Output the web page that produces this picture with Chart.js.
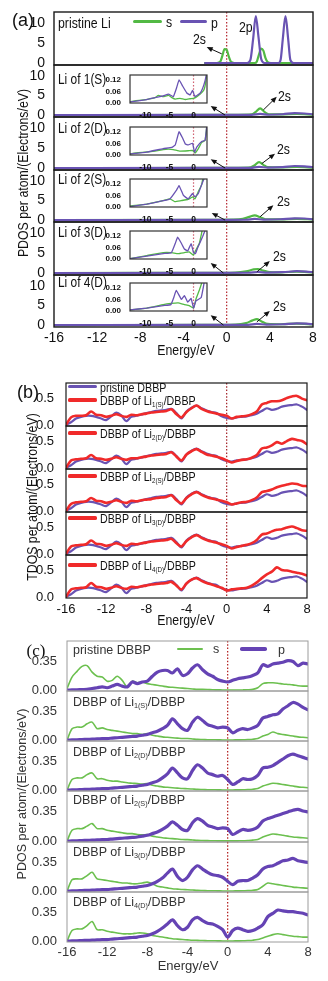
<!DOCTYPE html>
<html>
<head>
<meta charset="utf-8">
<script src="https://cdn.jsdelivr.net/npm/chart.js@4.4.1/dist/chart.umd.min.js"></script>
<style>
  html, body { margin: 0; padding: 0; background: #fff; }
  body { position: relative; width: 328px; height: 981px; overflow: hidden; }
  canvas { position: absolute; }
  .txt { position: absolute; white-space: nowrap; line-height: 1; transform-origin: 0 50%; color: #111; }
  .ctxt { position: absolute; white-space: nowrap; line-height: 1; color: #111; }
  .sw { position: absolute; }
  sub { font-size: 58%; vertical-align: -0.3em; line-height: 0; }
</style>
</head>
<body>
<script>
// ---------- data ----------
const E_GRID = [-16,-15.5,-15,-14.5,-14,-13.5,-13,-12.5,-12,-11.5,-11,-10.5,-10,-9.5,-9,-8.5,-8,-7.5,-7,-6.5,-6,-5.5,-5,-4.5,-4,-3.5,-3,-2.5,-2,-1.5,-1,-0.5,0,0.5,1,1.5,2,2.5,3,3.5,4,4.5,5,5.5,6,6.5,7,7.5,8];
const X_TICKS = [-16, -12, -8, -4, 0, 4, 8];
const INSET_X_TICKS = [-10, -5, 0];
const A_Y_TICKS = [0, 5, 10];
const INSET_Y_TICKS = [0, 0.06, 0.12];
const B_Y_TICKS = [0, 0.5];
const C_Y_TICKS = [0, 0.35];

const A_SITES = ['1(S)', '2(D)', '2(S)', '3(D)', '4(D)'];
const B_SITES = ['1(S)', '2(D)', '2(S)', '3(D)', '4(D)'];
const C_SITES = ['1(S)', '2(D)', '2(S)', '3(D)', '4(D)'];

// (a) pristine Li, [energy, PDOS]
const LI_PRISTINE_S = [[-2,0],[-0.9,0],[-0.6,0.3],[-0.4,1.8],[-0.2,3.5],[0,3.3],[0.2,1.6],[0.4,0.3],[0.7,0],[2.6,0],[2.8,0.4],[3.0,2.2],[3.2,3.6],[3.4,3.1],[3.6,1.2],[3.8,0.2],[4.1,0],[8,0]];
const LI_PRISTINE_P = [[-2,0],[1.9,0],[2.2,0.8],[2.45,6],[2.7,11.8],[2.95,6.5],[3.2,1],[3.5,0],[4.8,0],[5.0,0.8],[5.2,6],[5.45,11.8],[5.7,6],[5.9,0.8],[6.2,0],[8,0]];

// (a) adsorbed Li sites
const LI_1S_S = [[-16,0],[-2,0.02],[1,0.05],[2.3,0.15],[2.7,0.8],[3.1,1.7],[3.5,0.8],[3.9,0.2],[5,0.15],[6.5,0.3],[8,0.1]];
const LI_2D_S = [[-16,0],[-2,0.02],[1,0.05],[2.2,0.15],[2.6,0.7],[3.0,1.5],[3.4,0.8],[3.8,0.2],[5,0.15],[6.5,0.3],[8,0.1]];
const LI_2S_S = [[-16,0],[-2,0.03],[0.5,0.1],[1.5,0.3],[2.1,0.8],[2.6,1.2],[3.1,0.7],[3.6,0.2],[5,0.15],[6.5,0.3],[8,0.15]];
const LI_3D_S = [[-16,0],[-2,0.02],[0.8,0.1],[1.8,0.4],[2.5,0.9],[2.9,1.0],[3.4,0.6],[4,0.2],[5,0.15],[6.5,0.35],[8,0.15]];
const LI_4D_S = [[-16,0],[-2,0.02],[0.8,0.1],[1.8,0.5],[2.4,1.2],[2.8,1.5],[3.2,1.0],[3.8,0.3],[5,0.2],[6.5,0.35],[8,0.15]];
const LI_1S_P = [[-16,0],[-2,0.02],[2.3,0.05],[3.1,0.3],[3.9,0.08],[5.2,0.2],[6.3,0.5],[7.2,0.4],[8,0.2]];
const LI_2D_P = [[-16,0],[-2,0.02],[2.2,0.05],[3.0,0.3],[3.8,0.08],[5.2,0.2],[6.3,0.5],[7.2,0.4],[8,0.2]];
const LI_2S_P = [[-16,0],[-2,0.02],[1.8,0.08],[2.6,0.3],[3.4,0.1],[5.0,0.2],[6.3,0.45],[7.2,0.4],[8,0.2]];
const LI_3D_P = [[-16,0],[-2,0.02],[2.0,0.06],[2.9,0.25],[3.8,0.1],[5.2,0.2],[6.5,0.45],[7.4,0.35],[8,0.2]];
const LI_4D_P = [[-16,0],[-2,0.02],[2.0,0.06],[2.8,0.3],[3.7,0.1],[5.2,0.2],[6.5,0.45],[7.4,0.35],[8,0.2]];

// (a) insets, valence region
const INSET_1S_S = [[-13.2,0.006],[-12.2,0.011],[-10.8,0.015],[-9.4,0.02],[-8,0.028],[-7.3,0.039],[-6.3,0.033],[-5.2,0.039],[-4.5,0.028],[-3.8,0.02],[-2.8,0.024],[-1.7,0.018],[-0.7,0.022],[0,0.024],[0.7,0.033],[1.4,0.046],[2.1,0.065],[2.4,0.089],[2.8,0.16]];
const INSET_1S_P = [[-13.2,0.006],[-11.5,0.011],[-9.7,0.018],[-8,0.028],[-6.3,0.037],[-5.2,0.046],[-4.2,0.033],[-3.5,0.08],[-3.0,0.12],[-2.3,0.089],[-1.4,0.052],[-0.7,0.042],[-0.2,0.065],[0.3,0.033],[1.4,0.052],[1.9,0.076],[2.4,0.116],[2.8,0.16]];
const INSET_2D_S = [[-13.2,0.006],[-11.5,0.012],[-9.7,0.016],[-8,0.02],[-6.3,0.028],[-5.2,0.03],[-4.2,0.028],[-2.8,0.02],[-1.1,0.022],[-0.2,0.024],[0.3,0.01],[1.0,0.033],[1.7,0.065],[2.4,0.076],[2.8,0.16]];
const INSET_2D_P = [[-13.2,0.006],[-9.7,0.015],[-6.3,0.033],[-4.5,0.039],[-3.8,0.052],[-3.0,0.12],[-2.3,0.089],[-1.7,0.057],[-1.1,0.052],[-0.2,0.061],[0.2,0.015],[0.7,0.042],[1.7,0.07],[2.4,0.076],[2.8,0.16]];
const INSET_2S_S = [[-13.2,0.006],[-9.7,0.015],[-6.3,0.033],[-4.9,0.042],[-3.9,0.028],[-2.6,0.033],[-1.1,0.039],[-0.2,0.052],[0.3,0.042],[1.0,0.08],[1.7,0.116],[2.0,0.16]];
const INSET_2S_P = [[-13.2,0.002],[-9.7,0.015],[-6.3,0.033],[-4.9,0.042],[-3.5,0.089],[-3.0,0.11],[-2.1,0.06],[-1.1,0.042],[-0.2,0.07],[0.3,0.052],[1.0,0.07],[1.7,0.116],[2.4,0.16]];
const INSET_3D_S = [[-13.2,0.002],[-9.7,0.018],[-6.3,0.033],[-4.6,0.033],[-3.2,0.028],[-1.9,0.033],[-0.9,0.037],[0,0.02],[0.4,0.042],[1.2,0.08],[1.9,0.16]];
const INSET_3D_P = [[-13.2,0.002],[-9.7,0.015],[-6.3,0.028],[-4.6,0.033],[-3.8,0.08],[-3.3,0.113],[-2.5,0.08],[-1.9,0.052],[-1.2,0.042],[-0.5,0.08],[0,0.033],[0.4,0.028],[0.9,0.061],[1.9,0.116],[2.6,0.16]];
const INSET_4D_S = [[-13.2,0.006],[-9.7,0.015],[-6.3,0.033],[-4.7,0.039],[-3.2,0.042],[-1.9,0.033],[-0.9,0.028],[0,0.015],[0.5,0.061],[1.2,0.107],[1.9,0.16]];
const INSET_4D_P = [[-13.2,0.006],[-9.7,0.015],[-6.3,0.028],[-4.7,0.033],[-4.1,0.07],[-3.6,0.107],[-2.5,0.06],[-1.9,0.08],[-1.2,0.046],[-0.5,0.065],[0,0.015],[0.5,0.052],[1.6,0.07],[2.3,0.16]];

// (b) TDOS on E_GRID
const TDOS_PRISTINE = [0.00,0.05,0.12,0.15,0.17,0.17,0.15,0.12,0.09,0.16,0.23,0.18,0.07,0.15,0.17,0.19,0.22,0.24,0.26,0.27,0.28,0.30,0.22,0.12,0.25,0.32,0.36,0.31,0.27,0.24,0.22,0.16,0.13,0.12,0.14,0.15,0.16,0.18,0.21,0.26,0.31,0.28,0.30,0.34,0.36,0.37,0.38,0.34,0.28];
const TDOS_1S = [0.00,0.14,0.17,0.17,0.18,0.25,0.19,0.18,0.15,0.17,0.20,0.17,0.15,0.19,0.18,0.20,0.21,0.23,0.24,0.25,0.26,0.29,0.20,0.14,0.24,0.31,0.36,0.30,0.26,0.23,0.21,0.19,0.17,0.12,0.15,0.16,0.17,0.20,0.25,0.38,0.41,0.44,0.44,0.46,0.50,0.53,0.54,0.49,0.46];
const TDOS_2D = [0.00,0.14,0.16,0.17,0.18,0.24,0.18,0.17,0.15,0.17,0.20,0.17,0.15,0.18,0.18,0.20,0.21,0.23,0.24,0.25,0.26,0.29,0.21,0.14,0.25,0.31,0.35,0.30,0.25,0.23,0.21,0.18,0.14,0.10,0.13,0.15,0.16,0.19,0.24,0.36,0.38,0.42,0.48,0.45,0.50,0.54,0.52,0.50,0.44];
const TDOS_2S = [0.00,0.13,0.16,0.17,0.18,0.24,0.19,0.18,0.15,0.17,0.20,0.17,0.15,0.19,0.18,0.20,0.21,0.22,0.24,0.25,0.26,0.29,0.20,0.14,0.24,0.31,0.35,0.30,0.26,0.23,0.21,0.19,0.16,0.12,0.14,0.16,0.17,0.20,0.25,0.35,0.37,0.40,0.44,0.47,0.49,0.51,0.50,0.47,0.46];
const TDOS_3D = [0.00,0.14,0.16,0.17,0.18,0.25,0.19,0.18,0.15,0.17,0.20,0.17,0.15,0.19,0.18,0.20,0.21,0.23,0.24,0.25,0.26,0.28,0.20,0.14,0.24,0.31,0.35,0.30,0.26,0.23,0.21,0.18,0.15,0.10,0.13,0.15,0.17,0.20,0.26,0.36,0.38,0.42,0.45,0.46,0.49,0.51,0.48,0.44,0.43];
const TDOS_4D = [0.00,0.14,0.16,0.17,0.18,0.26,0.19,0.18,0.15,0.17,0.20,0.17,0.15,0.19,0.18,0.20,0.21,0.23,0.24,0.25,0.26,0.28,0.21,0.14,0.25,0.32,0.35,0.30,0.26,0.23,0.20,0.17,0.12,0.14,0.15,0.16,0.17,0.21,0.27,0.35,0.42,0.47,0.55,0.50,0.49,0.47,0.45,0.43,0.40];

// (c) PDOS of DBBP on E_GRID
const PDOS_PRISTINE_S = [0.02,0.16,0.23,0.29,0.30,0.22,0.17,0.16,0.11,0.12,0.17,0.12,0.04,0.11,0.09,0.10,0.08,0.07,0.06,0.05,0.04,0.035,0.03,0.025,0.02,0.015,0.01,0.01,0.008,0.005,0.004,0.003,0.002,0.002,0.002,0.003,0.005,0.01,0.03,0.08,0.09,0.09,0.085,0.075,0.07,0.065,0.055,0.05,0.05];
const PDOS_PRISTINE_P = [0,0.003,0.005,0.008,0.01,0.02,0.03,0.04,0.03,0.05,0.07,0.05,0.04,0.10,0.08,0.10,0.11,0.17,0.22,0.24,0.24,0.21,0.26,0.18,0.20,0.27,0.31,0.25,0.20,0.17,0.13,0.11,0.10,0.12,0.14,0.15,0.16,0.18,0.21,0.31,0.29,0.32,0.33,0.34,0.36,0.35,0.30,0.33,0.32];
const PDOS_1S_S = [0,0.14,0.16,0.16,0.20,0.22,0.14,0.15,0.13,0.12,0.11,0.10,0.09,0.08,0.08,0.07,0.08,0.06,0.05,0.04,0.035,0.03,0.025,0.02,0.02,0.015,0.01,0.008,0.006,0.005,0.004,0.003,0.003,0.003,0.004,0.005,0.008,0.012,0.02,0.05,0.07,0.10,0.08,0.07,0.06,0.05,0.04,0.035,0.03];
const PDOS_1S_P = [0,0.003,0.005,0.008,0.01,0.012,0.015,0.018,0.02,0.025,0.03,0.035,0.04,0.045,0.05,0.06,0.07,0.09,0.11,0.14,0.18,0.26,0.20,0.14,0.12,0.22,0.28,0.24,0.19,0.17,0.15,0.16,0.15,0.09,0.12,0.14,0.13,0.15,0.18,0.27,0.29,0.31,0.32,0.38,0.42,0.46,0.44,0.40,0.37];
const PDOS_2D_S = [0,0.13,0.15,0.15,0.19,0.21,0.14,0.14,0.12,0.11,0.11,0.10,0.09,0.085,0.08,0.075,0.08,0.06,0.05,0.04,0.035,0.03,0.025,0.02,0.018,0.014,0.01,0.008,0.006,0.005,0.004,0.003,0.003,0.003,0.004,0.005,0.008,0.012,0.02,0.05,0.07,0.085,0.08,0.07,0.06,0.05,0.04,0.035,0.03];
const PDOS_2D_P = [0,0.003,0.005,0.008,0.01,0.012,0.015,0.018,0.02,0.025,0.03,0.035,0.04,0.045,0.05,0.06,0.07,0.09,0.11,0.15,0.20,0.27,0.21,0.15,0.14,0.24,0.31,0.27,0.21,0.19,0.17,0.18,0.13,0.07,0.10,0.14,0.13,0.14,0.18,0.27,0.28,0.30,0.34,0.38,0.42,0.44,0.42,0.40,0.38];
const PDOS_2S_S = [0,0.13,0.15,0.15,0.18,0.21,0.15,0.15,0.13,0.12,0.11,0.10,0.09,0.09,0.08,0.075,0.08,0.06,0.05,0.04,0.035,0.03,0.025,0.02,0.018,0.014,0.01,0.008,0.006,0.005,0.004,0.003,0.003,0.003,0.004,0.005,0.008,0.012,0.02,0.05,0.07,0.085,0.08,0.07,0.06,0.05,0.045,0.04,0.035];
const PDOS_2S_P = [0,0.003,0.005,0.008,0.01,0.012,0.015,0.018,0.02,0.025,0.03,0.035,0.04,0.045,0.05,0.06,0.07,0.09,0.11,0.14,0.18,0.23,0.19,0.14,0.13,0.22,0.27,0.24,0.19,0.17,0.15,0.16,0.15,0.08,0.11,0.14,0.13,0.14,0.17,0.24,0.27,0.29,0.31,0.33,0.35,0.37,0.38,0.36,0.35];
const PDOS_3D_S = [0,0.14,0.15,0.15,0.19,0.23,0.15,0.14,0.13,0.12,0.11,0.10,0.10,0.09,0.09,0.10,0.11,0.09,0.06,0.05,0.04,0.03,0.025,0.02,0.018,0.014,0.01,0.008,0.006,0.005,0.004,0.003,0.003,0.003,0.004,0.005,0.008,0.012,0.02,0.06,0.10,0.09,0.08,0.07,0.06,0.05,0.045,0.04,0.035];
const PDOS_3D_P = [0,0.003,0.005,0.008,0.01,0.012,0.015,0.018,0.02,0.025,0.03,0.035,0.04,0.045,0.05,0.06,0.07,0.09,0.12,0.16,0.22,0.27,0.18,0.13,0.17,0.26,0.31,0.27,0.23,0.20,0.19,0.17,0.12,0.08,0.12,0.13,0.13,0.16,0.20,0.27,0.30,0.31,0.34,0.37,0.38,0.40,0.37,0.36,0.35];
const PDOS_4D_S = [0,0.13,0.15,0.15,0.19,0.24,0.14,0.14,0.12,0.11,0.10,0.09,0.09,0.09,0.10,0.10,0.09,0.07,0.06,0.05,0.04,0.03,0.025,0.02,0.016,0.012,0.01,0.008,0.006,0.005,0.004,0.003,0.003,0.003,0.004,0.005,0.008,0.012,0.02,0.04,0.06,0.08,0.09,0.08,0.07,0.06,0.055,0.05,0.05];
const PDOS_4D_P = [0,0.003,0.005,0.008,0.01,0.012,0.015,0.018,0.02,0.025,0.03,0.035,0.04,0.045,0.05,0.06,0.07,0.09,0.12,0.16,0.21,0.26,0.19,0.14,0.17,0.26,0.29,0.25,0.22,0.21,0.18,0.14,0.05,0.13,0.16,0.14,0.12,0.13,0.16,0.20,0.30,0.34,0.38,0.37,0.36,0.36,0.35,0.34,0.32];

// ---------- style ----------
const ARIAL = '"Liberation Sans", Arial, sans-serif';
const SERIF = '"Liberation Serif", "Times New Roman", serif';
const GREEN = '#52b944', PURPLE = '#6953b3', RED = '#f02a2a';
const C_GREEN = '#6cc04f', C_PURPLE = '#6543b4';
const SQUEEZE = 0.82;   // panels (a) and (b) use a condensed sans

const xy = pairs => pairs.map(p => ({ x: p[0], y: p[1] }));
const onGrid = vals => E_GRID.map((e, i) => ({ x: e, y: vals[i] }));

function line(data, color, width, smooth) {
  return {
    data, borderColor: color, borderWidth: width, pointRadius: 0, fill: false,
    borderJoinStyle: 'round', borderCapStyle: 'round',
    cubicInterpolationMode: smooth === 'mono' ? 'monotone' : 'default',
    tension: smooth === 'mono' ? 0 : (smooth || 0)
  };
}

// frame, dotted Fermi line and arrows
const deco = {
  id: 'deco',
  beforeDatasetsDraw(chart, args, o) {
    if (!o.zero) return;
    const { ctx, chartArea: a, scales: { x } } = chart;
    const px = x.getPixelForValue(0);
    ctx.save();
    ctx.strokeStyle = o.zero;
    ctx.lineWidth = 1.2;
    ctx.setLineDash([1.5, 1.8]);
    ctx.beginPath(); ctx.moveTo(px, a.top); ctx.lineTo(px, a.bottom); ctx.stroke();
    ctx.restore();
  },
  afterDatasetsDraw(chart, args, o) {
    const { ctx, chartArea: a, scales: { x, y } } = chart;
    ctx.save();
    (o.arrows || []).forEach(ar => {
      const x1 = x.getPixelForValue(ar[0][0]), y1 = y.getPixelForValue(ar[0][1]);
      const x2 = x.getPixelForValue(ar[1][0]), y2 = y.getPixelForValue(ar[1][1]);
      const ang = Math.atan2(y2 - y1, x2 - x1), hl = 6, hw = 2.6;
      ctx.strokeStyle = '#111'; ctx.fillStyle = '#111'; ctx.lineWidth = 1;
      ctx.beginPath(); ctx.moveTo(x1, y1);
      ctx.lineTo(x2 - Math.cos(ang) * hl * 0.8, y2 - Math.sin(ang) * hl * 0.8); ctx.stroke();
      ctx.beginPath(); ctx.moveTo(x2, y2);
      ctx.lineTo(x2 - Math.cos(ang) * hl - Math.sin(ang) * hw, y2 - Math.sin(ang) * hl + Math.cos(ang) * hw);
      ctx.lineTo(x2 - Math.cos(ang) * hl + Math.sin(ang) * hw, y2 - Math.sin(ang) * hl - Math.cos(ang) * hw);
      ctx.closePath(); ctx.fill();
    });
    if (o.frame) {
      ctx.strokeStyle = o.frame; ctx.lineWidth = o.frameWidth || 1;
      ctx.strokeRect(a.left, a.top, a.right - a.left, a.bottom - a.top);
    }
    ctx.restore();
  }
};

function plot(o) {
  const padT = 14, padR = 12;
  const padB = o.showX ? o.xH : 14;
  const W = o.w + o.padL + padR, H = o.h + padT + padB;
  const c = document.createElement('canvas');
  c.width = W; c.height = H;
  c.style.width = W + 'px'; c.style.height = H + 'px';
  c.style.left = (o.left - o.padL) + 'px';
  c.style.top = (o.top - padT) + 'px';
  document.body.appendChild(c);
  return new Chart(c, {
    type: 'line',
    data: { datasets: o.datasets },
    options: {
      responsive: false, animation: false, devicePixelRatio: 1,
      layout: { padding: { left: 0, top: padT, right: padR, bottom: o.showX ? 0 : padB } },
      plugins: {
        legend: { display: false }, tooltip: { enabled: false },
        deco: { frame: o.frame, frameWidth: o.frameWidth, zero: o.zero, arrows: o.arrows }
      },
      scales: {
        x: {
          type: 'linear', min: o.xMin, max: o.xMax, display: !!o.showX,
          afterBuildTicks: s => { s.ticks = o.xTicks.map(v => ({ value: v })); },
          afterFit: s => { if (o.showX) s.height = padB; },
          grid: { display: false }, border: { display: false },
          ticks: { font: o.xFont, color: o.tickColor, padding: o.xPad, maxRotation: 0, autoSkip: false,
                   callback: v => String(v) }
        },
        y: {
          type: 'linear', min: o.yMin, max: o.yMax,
          afterBuildTicks: s => { s.ticks = o.yTicks.map(v => ({ value: v })); },
          afterFit: s => { s.width = o.padL; },
          grid: { display: false }, border: { display: false },
          ticks: { font: o.yFont, color: o.tickColor, padding: o.yPad, callback: v => o.yFmt(v) }
        }
      }
    },
    plugins: [deco]
  });
}

function txt(html, left, cy, font, color, sx) {
  const d = document.createElement('div');
  d.className = 'txt'; d.innerHTML = html;
  d.style.left = left + 'px'; d.style.top = cy + 'px'; d.style.font = font;
  d.style.transform = 'translateY(-50%) scaleX(' + (sx || 1) + ')';
  if (color) d.style.color = color;
  document.body.appendChild(d);
}
function ctxt(html, cx, cy, font, color, sx, rot) {
  const d = document.createElement('div');
  d.className = 'ctxt'; d.innerHTML = html;
  d.style.left = cx + 'px'; d.style.top = cy + 'px'; d.style.font = font;
  d.style.transform = 'translate(-50%, -50%)' + (rot ? ' rotate(-90deg)' : '') + ' scaleX(' + (sx || 1) + ')';
  if (color) d.style.color = color;
  document.body.appendChild(d);
}
function swatch(left, width, cy, thick, color) {
  const d = document.createElement('div');
  d.className = 'sw';
  d.style.left = left + 'px'; d.style.width = width + 'px';
  d.style.top = (cy - thick / 2) + 'px'; d.style.height = thick + 'px';
  d.style.background = color; d.style.borderRadius = (thick / 2) + 'px';
  document.body.appendChild(d);
}

// ---------- panel (a) ----------
const A_LEFT = 54, A_RIGHT = 313, A_TOP = 12, A_STEP = 52.55;
const A_S = [LI_PRISTINE_S, LI_1S_S, LI_2D_S, LI_2S_S, LI_3D_S, LI_4D_S];
const A_P = [LI_PRISTINE_P, LI_1S_P, LI_2D_P, LI_2S_P, LI_3D_P, LI_4D_P];
const A_ARROWS = [
  [[[-0.46, 2.3], [-1.85, 4.0]]],
  [[[3.4, 1.3], [4.64, 4.65]], [[-0.15, 0], [-1.48, 2.3]]],
  [[[3.25, 1.1], [4.48, 3.6]], [[-0.15, 0], [-1.48, 2.2]]],
  [[[3.1, 0.85], [4.33, 3.8]], [[-0.15, 0], [-1.38, 1.8]]],
  [[[2.8, 0.3], [4.0, 3.0]], [[-0.3, 0], [-1.48, 2.5]]],
  [[[2.8, 0.8], [4.0, 3.6]], [[-0.3, 0], [-1.48, 2.5]]]
];
for (let i = 0; i < 6; i++) {
  const top = Math.round(A_TOP + i * A_STEP), bot = Math.round(A_TOP + (i + 1) * A_STEP);
  plot({
    left: A_LEFT, top, w: A_RIGHT - A_LEFT, h: bot - top, padL: 40,
    showX: i === 5, xH: 30, xMin: -16, xMax: 8, xTicks: X_TICKS,
    yMin: -0.5, yMax: 12.8, yTicks: A_Y_TICKS, yFmt: v => String(v),
    xFont: { family: ARIAL, size: 14 }, yFont: { family: ARIAL, size: 14 },
    tickColor: '#111', xPad: -5, yPad: 1,
    frame: '#1a1a1a', frameWidth: 1.4, zero: '#b3202a', arrows: A_ARROWS[i],
    datasets: [line(xy(A_P[i]), PURPLE, 2.2, 'mono'), line(xy(A_S[i]), GREEN, 2.2, 'mono')]
  });
}
const INSET_S = [INSET_1S_S, INSET_2D_S, INSET_2S_S, INSET_3D_S, INSET_4D_S];
const INSET_P = [INSET_1S_P, INSET_2D_P, INSET_2S_P, INSET_3D_P, INSET_4D_P];
const INSET_TOPS = [75, 127, 179, 231, 283];
for (let i = 0; i < 5; i++) {
  plot({
    left: 130, top: INSET_TOPS[i], w: 77, h: 28, padL: 26,
    showX: true, xH: 18, xMin: -13.2, xMax: 2.8, xTicks: INSET_X_TICKS,
    yMin: 0, yMax: 0.145, yTicks: INSET_Y_TICKS, yFmt: v => v.toFixed(2),
    xFont: { family: ARIAL, size: 8.5, weight: 'bold' }, yFont: { family: ARIAL, size: 8, weight: 'bold' },
    tickColor: '#111', xPad: 0, yPad: 1,
    frame: '#333', frameWidth: 1.2, zero: '#d06070',
    datasets: [line(xy(INSET_P[i]), PURPLE, 1.3, 0.1), line(xy(INSET_S[i]), GREEN, 1.3, 0.1)]
  });
}

// ---------- panel (b) ----------
const B_LEFT = 66, B_RIGHT = 307, B_TOP = 383, B_STEP = 43;
const B_RED = [TDOS_1S, TDOS_2D, TDOS_2S, TDOS_3D, TDOS_4D];
for (let i = 0; i < 5; i++) {
  const top = Math.round(B_TOP + i * B_STEP), bot = Math.round(B_TOP + (i + 1) * B_STEP);
  plot({
    left: B_LEFT, top, w: B_RIGHT - B_LEFT, h: bot - top, padL: 40,
    showX: i === 4, xH: 20, xMin: -16, xMax: 8, xTicks: X_TICKS,
    yMin: -0.02, yMax: 0.78, yTicks: B_Y_TICKS, yFmt: v => v.toFixed(1),
    xFont: { family: ARIAL, size: 13 }, yFont: { family: ARIAL, size: 13 },
    tickColor: '#111', xPad: -4, yPad: 4,
    frame: '#1a1a1a', frameWidth: 1.2, zero: '#a01c22',
    datasets: [line(onGrid(B_RED[i]), RED, 2.6, 0.3), line(onGrid(TDOS_PRISTINE), PURPLE, 2.2, 0.3)]
  });
}

// ---------- panel (c) ----------
const C_LEFT = 67, C_RIGHT = 308, C_TOP = 640.5, C_STEP = 50.25;
const C_S = [PDOS_PRISTINE_S, PDOS_1S_S, PDOS_2D_S, PDOS_2S_S, PDOS_3D_S, PDOS_4D_S];
const C_P = [PDOS_PRISTINE_P, PDOS_1S_P, PDOS_2D_P, PDOS_2S_P, PDOS_3D_P, PDOS_4D_P];
for (let i = 0; i < 6; i++) {
  const top = Math.round(C_TOP + i * C_STEP), bot = Math.round(C_TOP + (i + 1) * C_STEP);
  plot({
    left: C_LEFT, top, w: C_RIGHT - C_LEFT, h: bot - top, padL: 45,
    showX: i === 5, xH: 20, xMin: -16, xMax: 8, xTicks: X_TICKS,
    yMin: -0.01, yMax: 0.6, yTicks: C_Y_TICKS, yFmt: v => v.toFixed(2),
    xFont: { family: ARIAL, size: 13 }, yFont: { family: ARIAL, size: 13 },
    tickColor: '#333', xPad: -5, yPad: 2,
    frame: '#9c9c9c', frameWidth: 1, zero: '#b01818',
    datasets: [line(onGrid(C_P[i]), C_PURPLE, 3.2, 0.3), line(onGrid(C_S[i]), C_GREEN, 1.6, 0.3)]
  });
}

// ---------- text ----------
const FA = '15px ' + ARIAL;
ctxt('(a)', 23, 20, '18px ' + ARIAL);
txt('pristine Li', 58, 22, FA, null, SQUEEZE);
swatch(133, 29, 21.5, 3, GREEN); txt('s', 166, 21, FA, null, SQUEEZE);
swatch(180, 27, 21.5, 3, PURPLE); txt('p', 211, 22, FA, null, SQUEEZE);
txt('2p', 239, 26, FA, null, SQUEEZE);
const A_2S_POS = [[193, 38], [278, 95], [277, 148], [277, 200], [273, 255], [273, 305]];
A_2S_POS.forEach(p => txt('2s', p[0], p[1], FA, null, SQUEEZE));
const A_LABEL_CY = [79, 128, 179, 232, 282];
A_SITES.forEach((s, i) => txt('Li of ' + s, 58, A_LABEL_CY[i], '14.5px ' + ARIAL, null, SQUEEZE));
ctxt('Energy/eV', 186, 349, FA, null, SQUEEZE);
ctxt('PDOS per atom/(Electrons/eV)', 22, 173, FA, null, SQUEEZE, true);

const FB = '13px ' + ARIAL;
ctxt('(b)', 28, 392, '18px ' + ARIAL);
swatch(68, 29, 386.5, 3, PURPLE); txt('pristine DBBP', 100, 386.5, FB, null, SQUEEZE);
const B_LABEL_CY = [400, 433, 476, 518, 565];
B_SITES.forEach((s, i) => {
  swatch(68, 29, B_LABEL_CY[i], 3.2, RED);
  txt('DBBP of Li<sub>' + s + '</sub>/DBBP', 100, B_LABEL_CY[i], FB, null, SQUEEZE);
});
ctxt('Energy/eV', 186, 618.5, '15px ' + ARIAL, null, SQUEEZE);
ctxt('TDOS per atom/(Electrons/eV)', 31, 497, '15px ' + ARIAL, null, SQUEEZE, true);

const FC = '12.5px ' + ARIAL;
ctxt('(c)', 36, 651, '17px ' + SERIF);
txt('pristine DBBP', 73, 650, FC, '#333');
swatch(177, 26, 649, 2, C_GREEN); txt('s', 213, 649, FC, '#333');
swatch(240, 27, 649, 3.5, C_PURPLE); txt('p', 278, 650, FC, '#333');
const C_LABEL_CY = [702, 752, 800, 852, 902];
C_SITES.forEach((s, i) => txt('DBBP of Li<sub>' + s + '</sub>/DBBP', 73, C_LABEL_CY[i], FC, '#333'));
ctxt('Energy/eV', 188, 965, '13px ' + ARIAL, '#333');
ctxt('PDOS per atom/(Electrons/eV)', 22, 794, FC, '#333', 1, true);
</script>
</body>
</html>
